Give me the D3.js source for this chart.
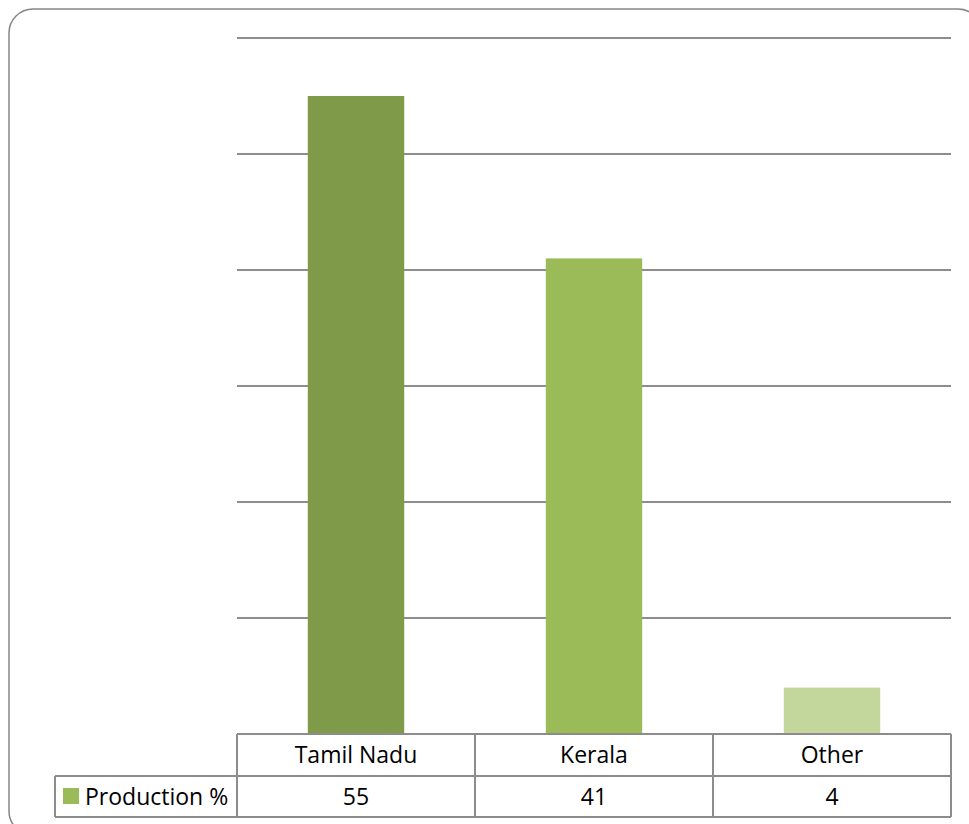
<!DOCTYPE html>
<html><head><meta charset="utf-8">
<script src="https://cdn.jsdelivr.net/npm/d3@7"></script>
<style>body{margin:0;background:#fff}svg{display:block}</style>
</head><body>
<svg id="c" width="969" height="824"></svg>
<script>
const categories = ["Tamil Nadu", "Kerala", "Other"];
const values = [55, 41, 4];
const seriesName = "Production %";
const barColors = ["#7F9A48", "#9BBB59", "#C3D69B"];
const yTicks = [0, 10, 20, 30, 40, 50, 60];

const svg = d3.select("#c");
const font = "'Open Sans', sans-serif";
const fs = 23;
const plot = {left: 237, right: 951, top: 38, bottom: 734};

svg.append("rect").attr("x", 9).attr("y", 9).attr("width", 973).attr("height", 826)
  .attr("rx", 24).attr("fill", "#fff").attr("stroke", "#868686").attr("stroke-width", 1.5);

const x = d3.scaleBand().domain(categories).range([plot.left, plot.right]).paddingInner(0).paddingOuter(0);
const y = d3.scaleLinear().domain([0, 60]).range([plot.bottom, plot.top]);

svg.append("g").selectAll("line").data(yTicks.slice(1)).join("line")
  .attr("x1", plot.left).attr("x2", plot.right)
  .attr("y1", d => y(d)).attr("y2", d => y(d))
  .attr("stroke", "#8c8c8c").attr("stroke-width", 2);

const bw = x.bandwidth() * 0.405;
svg.append("g").selectAll("rect").data(values).join("rect")
  .attr("x", (d, i) => x(categories[i]) + (x.bandwidth() - bw) / 2)
  .attr("width", bw)
  .attr("y", d => y(d))
  .attr("height", d => y(0) - y(d))
  .attr("fill", (d, i) => barColors[i]);

// data table
const row1 = [734, 776], row2 = [776, 817];
const lc = "#8c8c8c";
const t = svg.append("g").attr("stroke", lc).attr("stroke-width", 2).attr("fill", "none");
t.append("line").attr("x1", plot.left).attr("x2", plot.right).attr("y1", row1[0]).attr("y2", row1[0]);
t.append("line").attr("x1", 55).attr("x2", plot.right).attr("y1", row2[0]).attr("y2", row2[0]);
t.append("line").attr("x1", 55).attr("x2", plot.right).attr("y1", row2[1]).attr("y2", row2[1]);
t.append("line").attr("x1", 55).attr("x2", 55).attr("y1", row2[0]).attr("y2", row2[1]);
categories.forEach((c, i) => {
  t.append("line").attr("x1", x(c)).attr("x2", x(c)).attr("y1", row1[0]).attr("y2", row2[1]);
});
t.append("line").attr("x1", plot.right).attr("x2", plot.right).attr("y1", row1[0]).attr("y2", row2[1]);

svg.append("g").selectAll("text").data(categories).join("text")
  .attr("x", d => x(d) + x.bandwidth() / 2).attr("y", 763)
  .attr("text-anchor", "middle").attr("font-family", font).attr("font-size", fs).attr("fill", "#000")
  .text(d => d);
svg.append("g").selectAll("text").data(values).join("text")
  .attr("x", (d, i) => x(categories[i]) + x.bandwidth() / 2).attr("y", 805)
  .attr("text-anchor", "middle").attr("font-family", font).attr("font-size", fs).attr("fill", "#000")
  .text(d => d);

svg.append("rect").attr("x", 63).attr("y", 788).attr("width", 16).attr("height", 16).attr("fill", barColors[1]);
svg.append("text").attr("x", 85).attr("y", 805).attr("font-family", font).attr("font-size", fs)
  .attr("fill", "#000").text(seriesName);
</script>
</body></html>
